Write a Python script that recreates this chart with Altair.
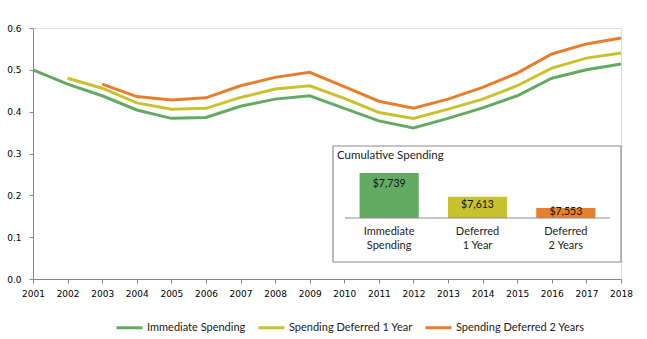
import altair as alt
import pandas as pd

years = list(range(2001, 2019))
immediate = [0.500, 0.466, 0.438, 0.404, 0.384, 0.386, 0.413, 0.430, 0.438, 0.408,
             0.378, 0.361, 0.384, 0.409, 0.438, 0.480, 0.500, 0.514]
deferred1 = [None, 0.480, 0.456, 0.421, 0.406, 0.408, 0.434, 0.454, 0.462, 0.432,
             0.398, 0.384, 0.406, 0.430, 0.462, 0.504, 0.528, 0.540]
deferred2 = [None, None, 0.466, 0.436, 0.428, 0.433, 0.462, 0.482, 0.494, 0.460,
             0.425, 0.408, 0.430, 0.458, 0.492, 0.538, 0.562, 0.576]
series_names = ["Immediate Spending", "Spending Deferred 1 Year", "Spending Deferred 2 Years"]
line_colors = ["#63ab62", "#c9c22e", "#e87d2a"]

bar_keys = ["Immediate\nSpending", "Deferred\n1 Year", "Deferred\n2 Years"]
bar_values = [7739, 7613, 7553]
bar_labels = ["$7,739", "$7,613", "$7,553"]
bar_colors = ["#63ab62", "#c8c22f", "#e8802a"]

rows = []
for name, vals in zip(series_names, [immediate, deferred1, deferred2]):
    for y, v in zip(years, vals):
        if v is not None:
            rows.append({"year": y, "value": v, "series": name})
df = pd.DataFrame(rows)

bars_df = pd.DataFrame({"key": bar_keys, "v": bar_values, "label": bar_labels})

W, H = 588, 251
FONT = "DejaVu Sans"
TFONT = "Lato"

lines = alt.Chart(df).mark_line(strokeWidth=3).encode(
    x=alt.X("year:Q", scale=alt.Scale(domain=[2001, 2018], nice=False, zero=False),
            axis=alt.Axis(values=years, format="d", title=None, grid=False,
                          labelFont=FONT, labelFontSize=9, labelColor="#000",
                          domainColor="#868686", tickColor="#868686", tickSize=4,
                          labelPadding=6, labelFlush=False, labelOverlap=False)),
    y=alt.Y("value:Q", scale=alt.Scale(domain=[0, 0.6], nice=False),
            axis=alt.Axis(values=[0, 0.1, 0.2, 0.3, 0.4, 0.5, 0.6], format=".1f", title=None,
                          grid=False, labelFont=FONT, labelFontSize=9, labelColor="#000",
                          domainColor="#868686", tickColor="#868686", tickSize=4,
                          labelPadding=8)),
    color=alt.Color("series:N",
                    scale=alt.Scale(domain=series_names, range=line_colors),
                    legend=alt.Legend(title=None, orient="none", legendX=82, legendY=285,
                                      direction="horizontal", symbolType="stroke",
                                      symbolStrokeWidth=3, symbolSize=676,
                                      labelFont=TFONT, labelFontSize=11, labelColor="#222",
                                      labelOffset=3, columnPadding=6)),
)

box = alt.Chart(pd.DataFrame({"a": [0]})).mark_rect(
    fill="white", stroke="#8c8c8c", strokeWidth=1.2
).encode(x=alt.value(300), x2=alt.value(588), y=alt.value(118), y2=alt.value(234))

box_title = alt.Chart(pd.DataFrame({"t": ["Cumulative Spending"]})).mark_text(
    align="left", baseline="middle", font=TFONT, fontSize=11.5, color="#222"
).encode(x=alt.value(304), y=alt.value(128), text="t:N")

xb = alt.X("key:N", sort=bar_keys,
           scale=alt.Scale(range=[312, 577], paddingInner=0.33, paddingOuter=0.165),
           axis=None)
yscale = alt.Scale(domain=[7500, 7800], range=[190, 133.6], nice=False, zero=False)

bars = alt.Chart(bars_df).mark_bar().encode(
    x=xb,
    y=alt.Y("v:Q", scale=yscale, axis=None),
    y2=alt.datum(7500),
    color=alt.Color("key:N", scale=alt.Scale(domain=bar_keys, range=bar_colors), legend=None),
)

bar_text = alt.Chart(bars_df).transform_calculate(
    ly="datum.v - min(60, (datum.v - 7500) * 0.4)"
).mark_text(baseline="middle", font=TFONT, fontSize=10.5, color="#111").encode(
    x=xb,
    y=alt.Y("ly:Q", scale=yscale, axis=None),
    text="label:N",
)

baseline = alt.Chart(pd.DataFrame({"a": [0]})).mark_rule(color="#8c8c8c", strokeWidth=1).encode(
    x=alt.value(312), x2=alt.value(577), y=alt.value(190)
)

cat_text = alt.Chart(bars_df).mark_text(
    baseline="top", font=TFONT, fontSize=11, color="#222", lineBreak="\n", lineHeight=13.5
).encode(x=xb, y=alt.value(198), text="key:N")

chart = alt.layer(lines, box, box_title, bars, bar_text, baseline, cat_text).resolve_scale(
    x="independent", y="independent", color="independent"
).properties(
    width=W, height=H,
    padding={"left": 33, "top": 28, "right": 26, "bottom": 60},
    autosize=alt.AutoSizeParams(type="none"),
).configure_view(stroke=None).configure(background="white")

chart.save("out.html", embed_options={"renderer": "svg", "actions": False})
